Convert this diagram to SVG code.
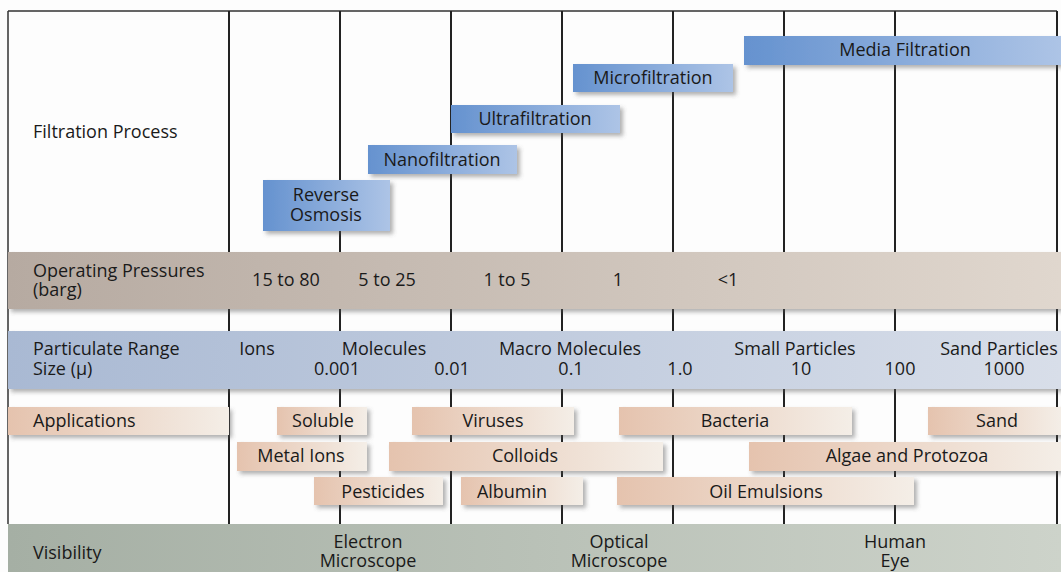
<svg xmlns="http://www.w3.org/2000/svg" width="1061" height="572" viewBox="0 0 1061 572">
<defs>
<linearGradient id="gBlue" x1="0" y1="0" x2="1" y2="0"><stop offset="0" stop-color="#6592cf"/><stop offset="1" stop-color="#adc4e6"/></linearGradient>
<linearGradient id="gOp" x1="0" y1="0" x2="1" y2="0"><stop offset="0" stop-color="#b6aaa1"/><stop offset="1" stop-color="#e0d7ce"/></linearGradient>
<linearGradient id="gPart" x1="0" y1="0" x2="1" y2="0"><stop offset="0" stop-color="#a9b9d3"/><stop offset="1" stop-color="#d8dee9"/></linearGradient>
<linearGradient id="gApp" x1="0" y1="0" x2="1" y2="0"><stop offset="0" stop-color="#e5c3ae"/><stop offset="1" stop-color="#f4eee7"/></linearGradient>
<linearGradient id="gVis" x1="0" y1="0" x2="1" y2="0"><stop offset="0" stop-color="#a5afa4"/><stop offset="1" stop-color="#cdd3ca"/></linearGradient>
<filter id="sh" x="-5%" y="-20%" width="115%" height="160%"><feDropShadow dx="3" dy="3" stdDeviation="2" flood-color="#555" flood-opacity="0.45"/></filter>
</defs>
<style>
text{font-family:"Open Sans","Noto Sans","Liberation Sans",sans-serif;font-size:18px;font-weight:500;fill:#1a1a1a}
.c{text-anchor:middle}
.ln{stroke:#222;stroke-width:2;fill:none}
.fr{stroke:#333;stroke-width:1.5;fill:none}
.blue{fill:url(#gBlue);filter:url(#sh)}
.app{fill:url(#gApp);filter:url(#sh)}
</style>
<rect width="1061" height="572" fill="#fdfdfd"/>
<g id="connectors">
<path class="fr" d="M8,11 H1057 M8,11 V524"/>
<path class="ln" d="M229,11 V524 M340,11 V524 M451,11 V524 M562,11 V524 M673,11 V524 M784,11 V524 M895,11 V524 M1057,11 V524"/>
</g>
<g id="filtration-process"><text x="33" y="138">Filtration Process</text></g>
<g id="media-filtration"><rect class="blue" x="744" y="36" width="317" height="29"/><text class="c" x="905" y="56">Media Filtration</text></g>
<g id="microfiltration"><rect class="blue" x="573" y="64" width="160" height="28"/><text class="c" x="653" y="84">Microfiltration</text></g>
<g id="ultrafiltration"><rect class="blue" x="451" y="105" width="169" height="28"/><text class="c" x="535" y="125">Ultrafiltration</text></g>
<g id="nanofiltration"><rect class="blue" x="368" y="145" width="149" height="29"/><text class="c" x="442" y="166">Nanofiltration</text></g>
<g id="reverse-osmosis"><rect class="blue" x="263" y="180" width="127" height="51"/><text class="c" x="326" y="201">Reverse</text><text class="c" x="326" y="221">Osmosis</text></g>
<g id="operating-pressures">
<rect x="8" y="252" width="1053" height="57" fill="url(#gOp)" filter="url(#sh)"/>
<text x="33" y="277">Operating Pressures</text><text x="33" y="296">(barg)</text>
<text class="c" x="286" y="286">15 to 80</text><text class="c" x="387" y="286">5 to 25</text><text class="c" x="507" y="286">1 to 5</text><text class="c" x="618" y="286">1</text><text class="c" x="728" y="286">&lt;1</text>
</g>
<g id="particulate-range">
<rect x="8" y="331" width="1053" height="58" fill="url(#gPart)" filter="url(#sh)"/>
<text x="33" y="355">Particulate Range</text><text x="33" y="375">Size (μ)</text>
<text class="c" x="257" y="355">Ions</text><text class="c" x="384" y="355">Molecules</text><text class="c" x="570" y="355">Macro Molecules</text><text class="c" x="795" y="355">Small Particles</text><text class="c" x="999" y="355">Sand Particles</text>
<text class="c" x="337" y="375">0.001</text><text class="c" x="452" y="375">0.01</text><text class="c" x="571" y="375">0.1</text><text class="c" x="680" y="375">1.0</text><text class="c" x="801" y="375">10</text><text class="c" x="900" y="375">100</text><text class="c" x="1004" y="375">1000</text>
</g>
<g id="applications"><rect class="app" x="8" y="407" width="221" height="28"/><text x="33" y="427">Applications</text></g>
<g id="soluble"><rect class="app" x="277" y="407" width="90" height="28"/><text class="c" x="323" y="427">Soluble</text></g>
<g id="viruses"><rect class="app" x="412" y="407" width="162" height="28"/><text class="c" x="493" y="427">Viruses</text></g>
<g id="bacteria"><rect class="app" x="619" y="407" width="233" height="28"/><text class="c" x="735" y="427">Bacteria</text></g>
<g id="sand"><rect class="app" x="928" y="407" width="133" height="28"/><text class="c" x="997" y="427">Sand</text></g>
<g id="metal-ions"><rect class="app" x="237" y="442" width="130" height="29"/><text class="c" x="301" y="462">Metal Ions</text></g>
<g id="colloids"><rect class="app" x="389" y="442" width="274" height="29"/><text class="c" x="525" y="462">Colloids</text></g>
<g id="algae-protozoa"><rect class="app" x="749" y="442" width="312" height="29"/><text class="c" x="907" y="462">Algae and Protozoa</text></g>
<g id="pesticides"><rect class="app" x="314" y="477" width="129" height="28"/><text class="c" x="383" y="498">Pesticides</text></g>
<g id="albumin"><rect class="app" x="461" y="477" width="122" height="28"/><text class="c" x="512" y="498">Albumin</text></g>
<g id="oil-emulsions"><rect class="app" x="617" y="477" width="297" height="28"/><text class="c" x="766" y="498">Oil Emulsions</text></g>
<g id="visibility">
<rect x="8" y="524" width="1053" height="48" fill="url(#gVis)"/>
<text x="33" y="559">Visibility</text>
<text class="c" x="368" y="548">Electron</text><text class="c" x="368" y="567">Microscope</text>
<text class="c" x="619" y="548">Optical</text><text class="c" x="619" y="567">Microscope</text>
<text class="c" x="895" y="548">Human</text><text class="c" x="895" y="567">Eye</text>
</g>
</svg>
